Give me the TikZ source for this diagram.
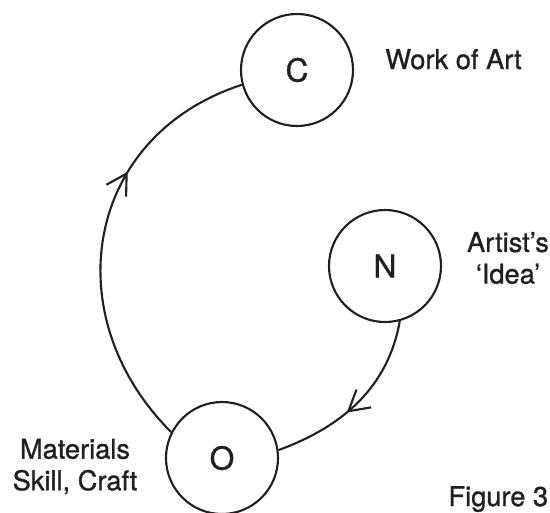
\documentclass[tikz,border=0pt]{standalone}
\usepackage{fontspec}
\setmainfont{TeX Gyre Heros}[AutoFakeBold=1.1]
\usepackage{xcolor}
\usepackage{tikz}
\usetikzlibrary{arrows.meta,decorations.markings}
\definecolor{inkdark}{HTML}{231F20}

\begin{document}
\begin{tikzpicture}[
    stage/.style    = {circle,draw=inkdark,line width=1.2pt,minimum size=2.24cm,
                       inner sep=0pt,text=inkdark,font=\fontsize{18}{21}\selectfont\bfseries},
    labeltext/.style= {text=inkdark,align=center,inner sep=0pt,
                       font=\fontsize{15.5}{18}\selectfont\bfseries},
    loopline/.style = {draw=inkdark,line width=1.2pt,postaction={decorate}},
    midarrow/.style = {decoration={markings,mark=at position #1 with
                       {\arrow{Straight Barb[length=4mm,width=4.6mm,line width=1.2pt]}}}},
  ]

  % ── Cadre ────────────────────────────────────────────────────────────────
  \useasboundingbox (0,0) rectangle (11,-10.24);

  % ── Les trois cercles ────────────────────────────────────────────────────
  \node[stage] (C) at (5.94,-1.40) {C};
  \node[stage] (N) at (7.70,-5.32) {N};
  \node[stage] (O) at (4.44,-9.16) {O};

  % ── Légendes ─────────────────────────────────────────────────────────────
  \node[labeltext,anchor=base west] (workart) at (7.70,-1.38) {Work of Art};
  \node[labeltext] (idea) at (10.16,-5.16) {Artist’s\\‘Idea’};
  \node[labeltext] (craft) at (1.50,-9.33) {Materials\\Skill, Craft};
  \node[labeltext,anchor=base east] (figno) at (10.97,-10.12) {Figure 3};

  % ── Arcs ─────────────────────────────────────────────────────────────────
  \draw[loopline,midarrow=0.66]
    (O.153) .. controls +(135:3.3) and +(198:3.3) .. (C.195);
  \draw[loopline,midarrow=0.58]
    (N.-75) .. controls +(-100:1.35) and +(20:1.35) .. (O.8);

\end{tikzpicture}
\end{document}
